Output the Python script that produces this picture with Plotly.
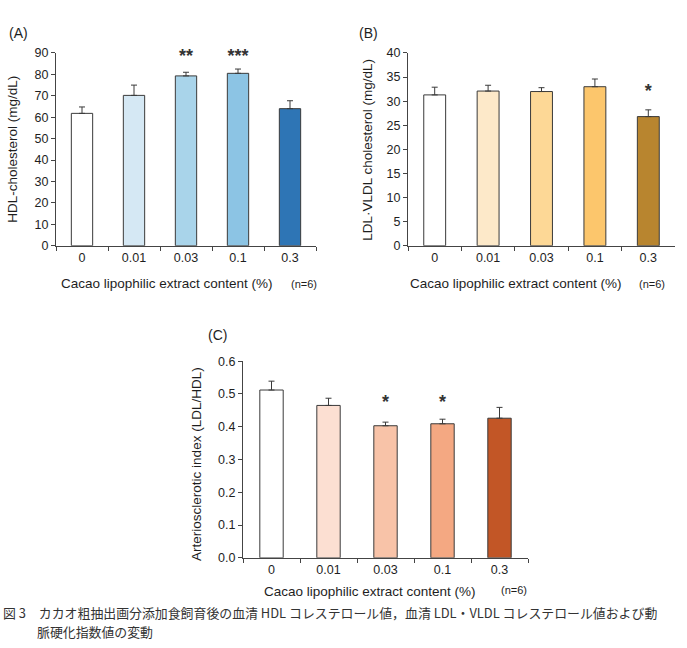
import plotly.graph_objects as go

W, H = 687, 648

categories = ["0", "0.01", "0.03", "0.1", "0.3"]

hdl_values = [61.8, 70.2, 79.3, 80.5, 64.0]
hdl_errors = [3.0, 4.8, 1.7, 2.0, 3.7]
hdl_sig = ["", "", "**", "***", ""]
hdl_colors = ["#ffffff", "#d5e8f4", "#a9d4ea", "#8cc4e4", "#2e75b5"]

ldl_values = [31.3, 32.1, 32.0, 33.0, 26.8]
ldl_errors = [1.6, 1.2, 0.8, 1.6, 1.4]
ldl_sig = ["", "", "", "", "*"]
ldl_colors = ["#ffffff", "#fde9c9", "#fdd896", "#fcc66c", "#b8852f"]

ai_values = [0.512, 0.465, 0.403, 0.409, 0.426]
ai_errors = [0.027, 0.022, 0.011, 0.014, 0.033]
ai_sig = ["", "", "*", "*", ""]
ai_colors = ["#ffffff", "#fcdfd2", "#f8c3a8", "#f4a882", "#c25626"]

xtitle = "Cacao lipophilic extract content (%)"
caption1 = "図 3　カカオ粗抽出画分添加食飼育後の血清 HDL コレステロール値，血清 LDL・VLDL コレステロール値および動"
caption2 = "脈硬化指数値の変動"

FONT = "Liberation Sans, Arial, sans-serif"
TXT = "#1e1e1e"

def px_x(p):
    return p / W

def px_y(p):
    return 1 - p / H

fig = go.Figure()

panels = [
    dict(vals=hdl_values, errs=hdl_errors, sig=hdl_sig, cols=hdl_colors,
         xd=(56, 316), yd=(244, 47), yr=(0, 90), dt=10, fmt="",
         ytitle="HDL-cholesterol (mg/dL)", label="(A)", sig_y=88.0,
         lab_xy=(7, 27), ytit_xy=(13, 146), xt_xy=(167, 283), n_xy=(304, 283)),
    dict(vals=ldl_values, errs=ldl_errors, sig=ldl_sig, cols=ldl_colors,
         xd=(408, 675), yd=(244, 47), yr=(0, 40), dt=5, fmt="",
         ytitle="LDL·VLDL cholesterol (mg/dL)", label="(B)", sig_y=31.8,
         lab_xy=(357, 27), ytit_xy=(368, 146), xt_xy=(516, 283), n_xy=(652, 283)),
    dict(vals=ai_values, errs=ai_errors, sig=ai_sig, cols=ai_colors,
         xd=(243, 528), yd=(563, 362), yr=(0, 0.6), dt=0.1, fmt=".1f",
         ytitle="Arteriosclerotic index (LDL/HDL)", label="(C)", sig_y=0.472,
         lab_xy=(206, 335), ytit_xy=(197, 467), xt_xy=(370, 597), n_xy=(514, 596)),
]

annotations = []
for i, p in enumerate(panels, start=1):
    xa = "x" if i == 1 else f"x{i}"
    ya = "y" if i == 1 else f"y{i}"
    fig.add_trace(go.Bar(
        x=categories, y=p["vals"], xaxis=xa, yaxis=ya,
        marker=dict(color=p["cols"], line=dict(color="#3a3a3a", width=1)),
        width=0.41,
        error_y=dict(type="data", array=p["errs"], arrayminus=[0]*5,
                     symmetric=False, color="#3a3a3a", thickness=1, width=3),
        showlegend=False, hoverinfo="skip",
    ))
    fig.add_trace(go.Scatter(
        x=categories, y=[p["sig_y"]]*5, text=p["sig"], mode="text",
        textfont=dict(family=FONT, size=18, color="#333333", weight="bold"),
        textposition="middle center", cliponaxis=False,
        xaxis=xa, yaxis=ya, showlegend=False, hoverinfo="skip",
    ))
    xkey = "xaxis" if i == 1 else f"xaxis{i}"
    ykey = "yaxis" if i == 1 else f"yaxis{i}"
    fig.update_layout({
        xkey: dict(domain=[px_x(p["xd"][0]), px_x(p["xd"][1])],
                   anchor=ya, type="category", range=[-0.5, 4.5],
                   showline=True, linecolor="#444444", linewidth=1,
                   ticks="outside", tickson="boundaries", ticklen=4,
                   tickcolor="#444444", showgrid=False, zeroline=False,
                   tickfont=dict(family=FONT, size=12.5, color=TXT)),
        ykey: dict(domain=[px_y(p["yd"][0]), px_y(p["yd"][1])],
                   anchor=xa, range=list(p["yr"]), dtick=p["dt"],
                   tickformat=p["fmt"],
                   showline=True, linecolor="#444444", linewidth=1,
                   ticks="outside", ticklen=4, tickcolor="#444444",
                   showgrid=False, zeroline=False,
                   tickfont=dict(family=FONT, size=12.5, color=TXT)),
    })
    annotations += [
        dict(text=p["label"], x=px_x(p["lab_xy"][0]), y=px_y(p["lab_xy"][1]),
             xref="paper", yref="paper", xanchor="left", yanchor="middle",
             showarrow=False, font=dict(family=FONT, size=14, color=TXT)),
        dict(text=p["ytitle"], x=px_x(p["ytit_xy"][0]), y=px_y(p["ytit_xy"][1]),
             xref="paper", yref="paper", xanchor="center", yanchor="middle",
             textangle=-90, showarrow=False,
             font=dict(family=FONT, size=13.5, color=TXT)),
        dict(text=xtitle, x=px_x(p["xt_xy"][0]), y=px_y(p["xt_xy"][1]),
             xref="paper", yref="paper", xanchor="center", yanchor="middle",
             showarrow=False, font=dict(family=FONT, size=13.5, color=TXT)),
        dict(text="(n=6)", x=px_x(p["n_xy"][0]), y=px_y(p["n_xy"][1]),
             xref="paper", yref="paper", xanchor="center", yanchor="middle",
             showarrow=False, font=dict(family=FONT, size=11, color=TXT)),
    ]

annotations += [
    dict(text=caption1, x=px_x(1), y=px_y(619), xref="paper", yref="paper",
         xanchor="left", yanchor="middle", showarrow=False,
         font=dict(family="Noto Sans CJK JP", size=12.9, color="#333333")),
    dict(text=caption2, x=px_x(35), y=px_y(638), xref="paper", yref="paper",
         xanchor="left", yanchor="middle", showarrow=False,
         font=dict(family="Noto Sans CJK JP", size=12.9, color="#333333")),
]

fig.update_layout(
    width=W, height=H, autosize=False,
    margin=dict(l=0, r=0, t=0, b=0),
    paper_bgcolor="white", plot_bgcolor="white",
    annotations=annotations, bargap=0.5,
)

fig.write_html("out.html")
